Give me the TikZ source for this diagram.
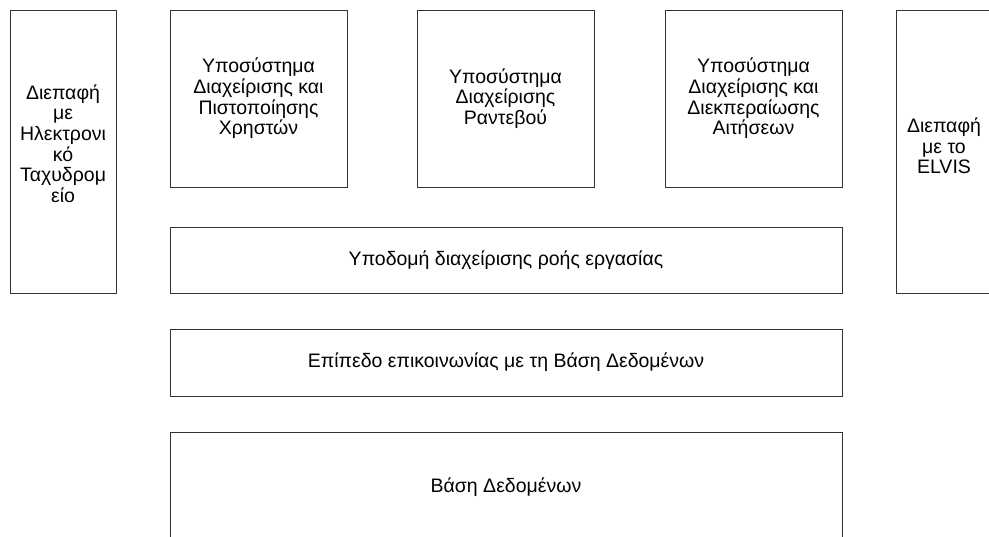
\documentclass[tikz,border=0pt]{standalone}
\usepackage{fontspec}
\setmainfont{Liberation Sans}
\begin{document}
\begin{tikzpicture}[x=1pt,y=-1pt,
  box/.style={draw=black!80, line width=0.9pt, inner sep=0pt, outer sep=0pt},
  lbl/.style={align=center, font=\fontsize{19.5}{20.6}\selectfont, inner sep=0pt}]
\path[use as bounding box, clip] (0,0) rectangle (989,537);
% tall side boxes
\node[box, minimum width=106pt, minimum height=283pt] (email) at (63,151.5) {};
\node[lbl] (emailt) at (63,143.5) {Διεπαφή\\με\\Ηλεκτρονι\\κό\\Ταχυδρομ\\είο};
\node[box, minimum width=106pt, minimum height=283pt] (elvis) at (949,151.5) {};
\node[lbl] (elvist) at (944,146) {Διεπαφή\\με το\\ELVIS};
% subsystems
\node[box, minimum width=177pt, minimum height=177pt] (users) at (258.5,98.5) {};
\node[lbl] (userst) at (258.5,98.5) {Υποσύστημα\\Διαχείρισης και\\Πιστοποίησης\\Χρηστών};
\node[box, minimum width=177pt, minimum height=177pt] (appt) at (505.5,98.5) {};
\node[lbl] (apptt) at (505.5,98.5) {Υποσύστημα\\Διαχείρισης\\Ραντεβού};
\node[box, minimum width=177pt, minimum height=177pt] (req) at (753.5,98.5) {};
\node[lbl] (reqt) at (753.5,98.5) {Υποσύστημα\\Διαχείρισης και\\Διεκπεραίωσης\\Αιτήσεων};
% layers
\node[box, minimum width=672pt, minimum height=66pt] (wf) at (506,260) {};
\node[lbl] (wft) at (506,260) {Υποδομή διαχείρισης ροής εργασίας};
\node[box, minimum width=672pt, minimum height=67pt] (dbl) at (506,362.5) {};
\node[lbl] (dblt) at (506,362.5) {Επίπεδο επικοινωνίας με τη Βάση Δεδομένων};
\node[box, minimum width=672pt, minimum height=110pt] (db) at (506,487) {};
\node[lbl] (dbt) at (506,487) {Βάση Δεδομένων};
\end{tikzpicture}
\end{document}
